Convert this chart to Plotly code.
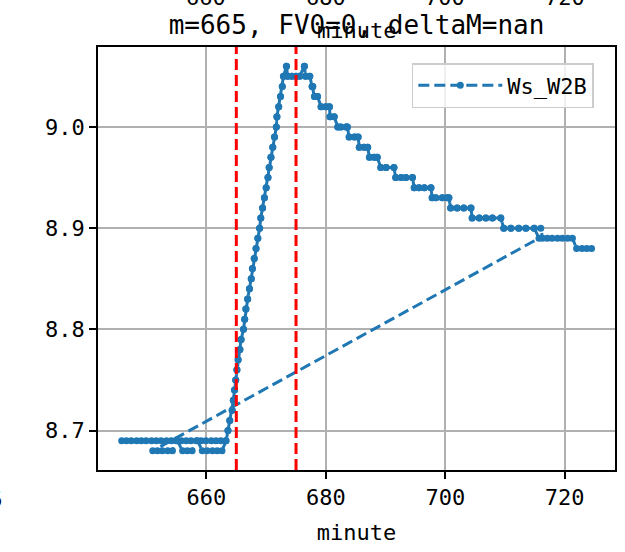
import plotly.graph_objects as go

# first sweep: flat at 8.69, then the ramp and decay
base_a_x = [645.8, 646.6, 647.4, 648.3, 649.1, 649.9, 650.8, 651.6, 652.4, 653.3, 654.1,
            654.9, 655.8, 656.6, 657.4, 658.3, 659.1, 659.9, 660.8, 661.6, 662.4, 663.2]
base_a_y = [8.69] * len(base_a_x)

curve_x = [663.6, 663.9, 664.3, 664.5, 664.7, 664.9, 665.1, 665.3, 665.6, 665.8,
           666.2, 666.4, 666.6, 666.9, 667.2, 667.5, 667.7, 668.0, 668.3, 668.6,
           668.9, 669.1, 669.4, 669.7, 670.0, 670.3, 670.5, 670.8, 671.1, 671.4,
           671.7, 671.8, 672.1, 672.4, 672.7, 672.9, 673.4, 673.6, 674.3, 675.0,
           675.6, 676.4, 676.6, 677.3, 677.7, 677.8, 678.1, 678.6, 679.2, 680.0,
           680.6, 680.7, 681.4, 682.0, 682.5, 683.4, 683.6, 683.9, 684.8, 685.4,
           685.6, 686.4, 687.0, 687.3, 688.1, 688.6, 689.2, 690.1, 691.4, 691.7,
           692.6, 693.4, 694.5, 694.8, 695.6, 696.5, 697.6, 697.8, 698.4, 699.5,
           700.3, 700.6, 700.9, 702.0, 703.1, 704.3, 704.5, 705.7, 706.8, 707.9,
           709.3, 709.8, 711.0, 712.3, 713.5, 714.9]
curve_y = [8.70, 8.71, 8.72, 8.73, 8.74, 8.75, 8.76, 8.77, 8.78, 8.79,
           8.80, 8.81, 8.82, 8.83, 8.84, 8.85, 8.86, 8.87, 8.88, 8.89,
           8.90, 8.91, 8.92, 8.93, 8.94, 8.95, 8.96, 8.97, 8.98, 8.99,
           9.00, 9.01, 9.02, 9.03, 9.04, 9.05, 9.06, 9.05, 9.05, 9.05,
           9.05, 9.06, 9.05, 9.05, 9.04, 9.04, 9.03, 9.03, 9.02, 9.02,
           9.02, 9.01, 9.01, 9.00, 9.00, 9.00, 9.00, 8.99, 8.99, 8.99,
           8.98, 8.98, 8.98, 8.97, 8.97, 8.97, 8.96, 8.96, 8.96, 8.95,
           8.95, 8.95, 8.95, 8.94, 8.94, 8.94, 8.94, 8.93, 8.93, 8.93,
           8.93, 8.93, 8.92, 8.92, 8.92, 8.92, 8.91, 8.91, 8.91, 8.91,
           8.91, 8.90, 8.90, 8.90, 8.90, 8.90]

end_a_x = [715.7]
end_a_y = [8.89]

# second sweep: flat near 8.68, same ramp, then the tail
base_b_x = [651.0, 651.8, 652.6, 653.5, 654.3, 655.1, 656.0, 656.8, 657.6, 658.5,
            659.3, 660.1, 661.0, 661.8, 662.6, 663.3]
base_b_y = [8.68, 8.68, 8.68, 8.68, 8.68, 8.69, 8.68, 8.68, 8.68, 8.69,
            8.68, 8.68, 8.68, 8.68, 8.68, 8.69]

tail_x = [716.0, 716.3, 717.1, 717.9, 718.8, 719.6, 720.5, 721.3, 722.0, 722.9, 723.7, 724.5]
tail_y = [8.90, 8.89, 8.89, 8.89, 8.89, 8.89, 8.89, 8.89, 8.88, 8.88, 8.88, 8.88]

minute = base_a_x + curve_x + end_a_x + base_b_x + curve_x + tail_x
ws_w2b = base_a_y + curve_y + end_a_y + base_b_y + curve_y + tail_y

markers_at = [665, 675]
x_ticks = [660, 680, 700, 720]
y_ticks = [8.7, 8.8, 8.9, 9.0]

FONT = "DejaVu Sans Mono"
BLUE = "#1f77b4"

fig = go.Figure()
fig.add_trace(go.Scatter(
    x=minute, y=ws_w2b,
    mode="lines+markers",
    name="Ws_W2B",
    line=dict(color=BLUE, width=3, dash="11px,5px"),
    marker=dict(color=BLUE, size=7),
))

for m in markers_at:
    fig.add_shape(type="line", xref="x", yref="paper", x0=m, x1=m, y0=0, y1=1,
                  line=dict(color="red", width=3, dash="11px,5px"), layer="above")

axis_common = dict(
    showgrid=True, gridcolor="#b0b0b0", gridwidth=1.6,
    showline=True, linecolor="black", linewidth=1.6, mirror=True,
    ticks="outside", ticklen=7, tickwidth=1.6, tickcolor="black",
    tickfont=dict(family=FONT, size=22, color="black"),
    zeroline=False, automargin=False,
)

fig.update_xaxes(range=[641.83, 728.43], tickvals=x_ticks,
                 title=dict(text="minute", font=dict(family=FONT, size=22, color="black"), standoff=15),
                 **axis_common)
fig.update_yaxes(range=[8.661, 9.079], tickvals=y_ticks,
                 ticktext=[f"{v:.1f}" for v in y_ticks], **axis_common)

# bits of the neighbouring subplots that got cropped into the frame
annos = [dict(text="minute", xref="paper", yref="paper", x=0.5, y=1.038,
              xanchor="center", yanchor="middle", showarrow=False,
              font=dict(family=FONT, size=22, color="black"))]
for t in x_ticks:
    annos.append(dict(text=str(t), xref="x", yref="paper", x=t, y=1.117,
                      xanchor="center", yanchor="middle", showarrow=False,
                      font=dict(family=FONT, size=22, color="black")))
annos.append(dict(text="725", xref="paper", yref="paper", x=-0.179, y=-0.0686,
                  xanchor="right", yanchor="middle", showarrow=False,
                  font=dict(family=FONT, size=22, color="black")))

fig.update_layout(
    width=625, height=552,
    margin=dict(l=98, r=10, t=47, b=82),
    paper_bgcolor="white", plot_bgcolor="white",
    title=dict(text="m=665, FV0=0, deltaM=nan", x=0.5, xref="paper",
               y=1 - 25 / 552, yref="container", xanchor="center", yanchor="middle",
               font=dict(family=FONT, size=26, color="black")),
    legend=dict(x=0.607, y=0.962, xanchor="left", yanchor="top",
                bgcolor="rgba(255,255,255,0.8)", bordercolor="#cccccc", borderwidth=1.5,
                font=dict(family=FONT, size=22, color="black"), itemwidth=84),
    showlegend=True,
    annotations=annos,
)

fig.write_html("out.html", config={"displayModeBar": False},
               post_script="document.body.style.margin='0';")
